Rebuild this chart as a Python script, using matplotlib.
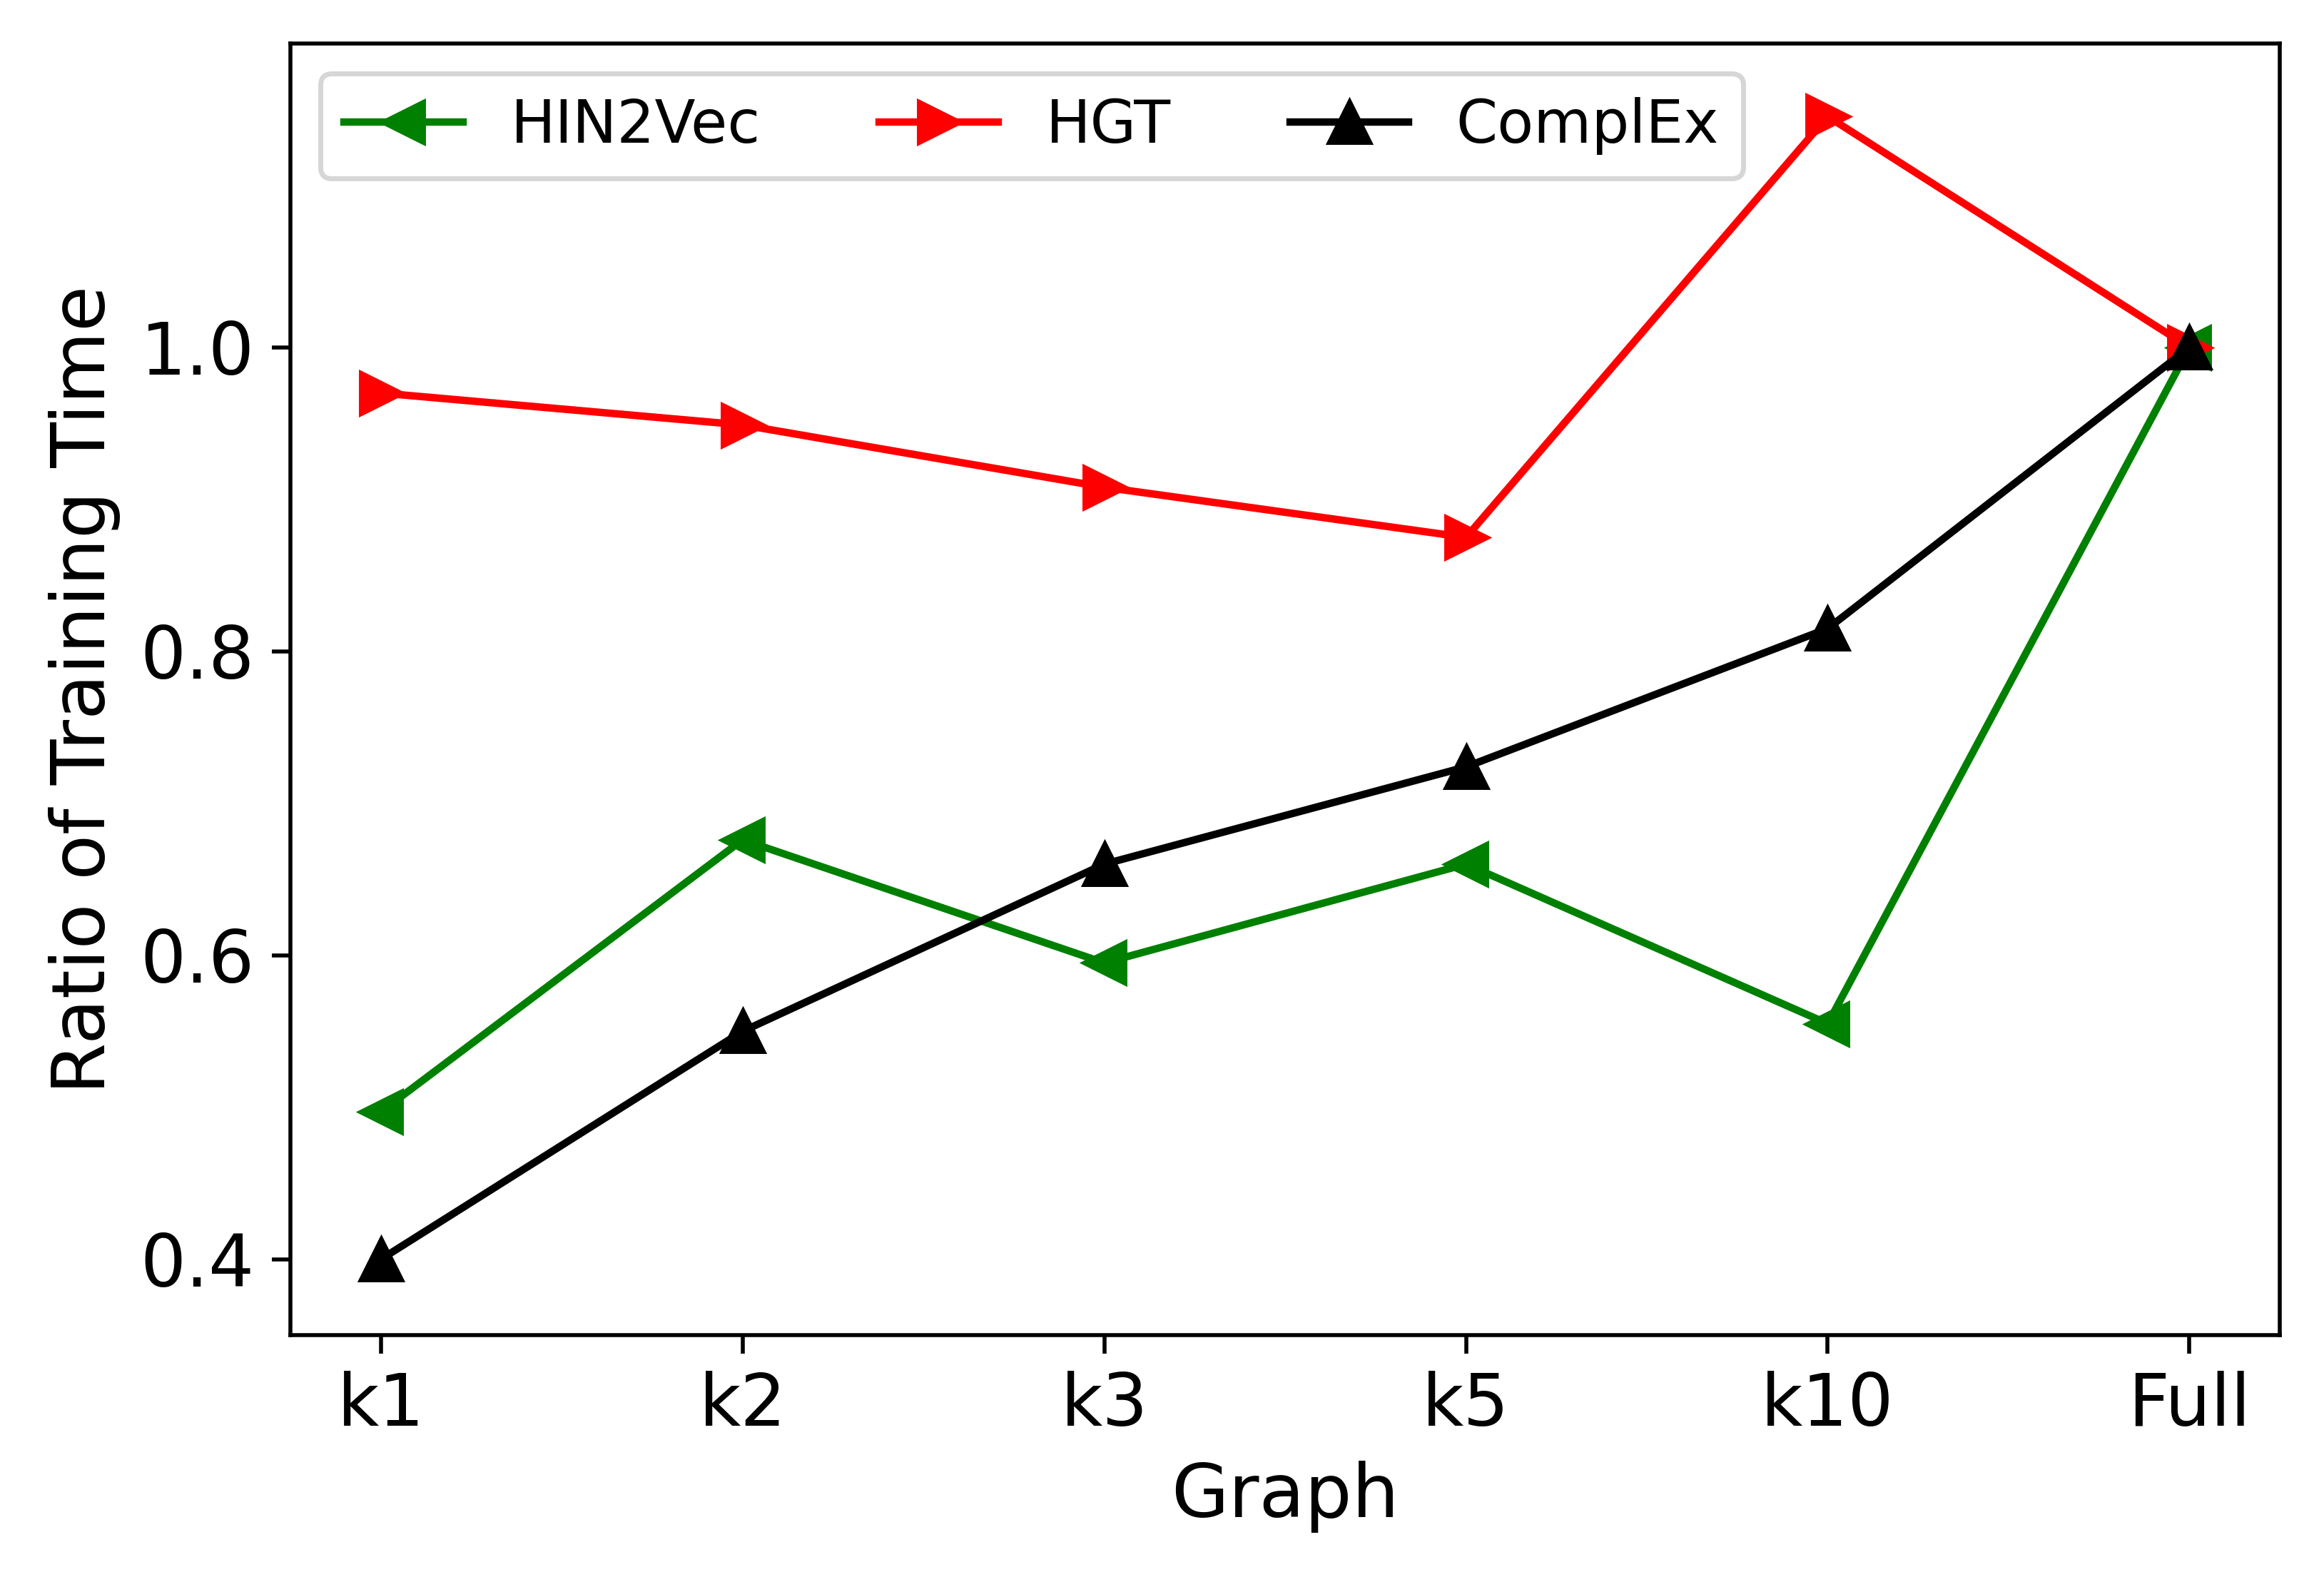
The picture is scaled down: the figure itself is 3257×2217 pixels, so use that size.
import matplotlib
matplotlib.use('Agg')
import matplotlib.pyplot as plt


graphs = ['k1', 'k2', 'k3', 'k5', 'k10', 'Full']
hin2vec = [0.497, 0.676, 0.595, 0.660, 0.555, 1.0]
hgt = [0.970, 0.949, 0.908, 0.875, 1.152, 1.0]
complex_ = [0.400, 0.550, 0.660, 0.724, 0.815, 1.0]


def main():

    fig = plt.figure(figsize = (6.514, 4.434), dpi = 500)
    ax = fig.add_axes([0.125, 0.156, 0.856, 0.8165])

    x = range(len(graphs))
    ax.plot(x, hin2vec, color = 'green', marker = '<', markersize = 8, label = 'HIN2Vec')
    ax.plot(x, hgt, color = 'red', marker = '>', markersize = 8, label = 'HGT')
    ax.plot(x, complex_, color = 'black', marker = '^', markersize = 8, label = 'ComplEx')

    ax.set_xticks(list(x))
    ax.set_xticklabels(graphs)
    ax.set_ylim(0.35, 1.2)
    ax.set_yticks([0.4, 0.6, 0.8, 1.0])
    ax.tick_params(labelsize = 14.5, length = 3.75)
    ax.set_xlabel('Graph', fontsize = 15)
    ax.set_ylabel('Ratio of Training Time', fontsize = 15)
    ax.legend(loc = 'upper left', ncol = 3, fontsize = 12)

    fig.savefig('out.png')


if __name__ == '__main__':
    main()
